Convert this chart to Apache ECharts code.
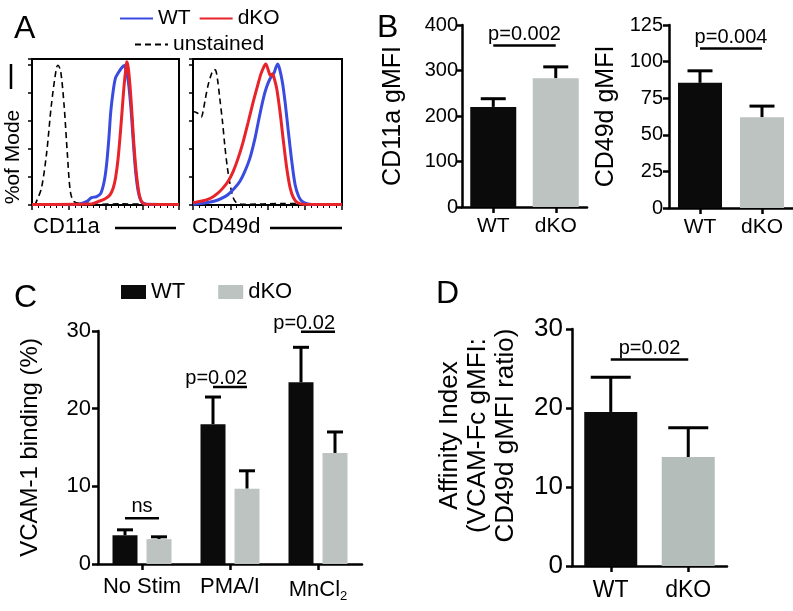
<!DOCTYPE html>
<html>
<head>
<meta charset="utf-8">
<script src="https://cdn.jsdelivr.net/npm/echarts@6/dist/echarts.min.js"></script>
<style>
  html, body { margin: 0; padding: 0; background: #fff; }
  #main { width: 793px; height: 611px; }
</style>
</head>
<body>
<div id="main"></div>
<script>
// panel A histograms: [channel position (0-100, log scale), % of mode]
var cd11aUnstained = [[2, 0], [3, 2.4], [6.4, 11.9], [9.8, 35.7], [13.2, 71.4], [16.6, 97.6], [17.7, 99.5], [19.5, 95.2], [21.8, 71.4], [24.1, 35.7], [26.1, 9.5], [28.6, 2.4], [33.6, 1.2], [38.2, 2.4], [42.7, 0.5], [60, 0.8], [80, 0.5], [100, 0.4]];
var cd11aWT = [[0, 0.3], [30, 0.3], [37, 2.4], [40.5, 5.2], [43.9, 6], [46.8, 8.3], [49.1, 16.7], [50.7, 28.6], [52.3, 47.6], [53.6, 66.7], [55.2, 81], [56.8, 90.5], [58.6, 94], [60.9, 97.6], [62.7, 99.3], [63.9, 96.4], [65.5, 88.1], [67.3, 69], [68.9, 45.2], [70.5, 23.8], [72.3, 9.5], [74.5, 2.4], [78, 0.5], [100, 0.3]];
var cd11aKO = [[0, 0.4], [40.5, 0.7], [45, 2.4], [49.5, 4.3], [53, 7.1], [55.2, 11.9], [56.8, 19], [58.6, 33.3], [60.2, 52.4], [61.6, 71.4], [62.7, 85.7], [63.9, 97.6], [64.5, 102], [65.5, 97.6], [66.8, 83.3], [68.2, 61.9], [69.5, 40.5], [71.1, 21.4], [73, 7.1], [75, 1.7], [78, 0.5], [100, 0.4]];
var cd49dUnstained = [[0, 66], [0.7, 66.4], [3.4, 65.2], [5.6, 62.8], [6.7, 66.4], [8.3, 75.8], [10.1, 85.2], [12.4, 93.4], [14.2, 96.5], [15.3, 95.8], [16.4, 89.9], [18, 75.8], [19.8, 59.3], [21.3, 42.8], [23.1, 26.4], [24.9, 14.6], [27, 5.2], [29.2, 1.6], [33.7, 0.5], [60, 1], [100, 0.5]];
var cd49dWT = [[0, 0.5], [7.9, 1.4], [14.6, 2.8], [19.1, 4.7], [23.6, 7.5], [28.1, 12.2], [31.5, 16.9], [34.8, 24], [38.2, 33.4], [41.6, 47.5], [44.3, 61.6], [47.2, 75.8], [49.4, 84], [51.7, 89.9], [53.3, 92.2], [54.6, 94.6], [55.7, 98.1], [56.9, 100.5], [58.4, 95.8], [60, 87.5], [61.8, 73.4], [64, 52.2], [66.3, 31.1], [68.5, 14.6], [70.8, 6.4], [73, 2.8], [76.4, 0.9], [79.8, 0.3], [100, 0.3]];
var cd49dKO = [[0, 1.6], [3.4, 2.4], [7.9, 3.3], [12.4, 5.2], [16.9, 8.7], [20.2, 12.2], [23.6, 16.9], [27, 24], [30.3, 33.4], [33.7, 45.2], [37.1, 59.3], [40.4, 73.4], [43.4, 85.2], [45.6, 93.4], [47.4, 98.1], [48.8, 100.5], [50.6, 95.8], [51.9, 92.2], [53.3, 93.4], [54.6, 89.9], [56.2, 82.8], [58.4, 66.4], [60.7, 45.2], [62.9, 26.4], [65.2, 12.2], [67.4, 5.2], [70.3, 1.6], [74.2, 0.5], [100, 0.4]];

// panel B
var groups = ['WT', 'dKO'];
var cd11aMean = [220, 283];
var cd11aSem = [18, 25];
var cd49dMean = [85.5, 62];
var cd49dSem = [8.2, 7.6];

// panel C
var cCats = ['No Stim', 'PMA/I', 'MnCl2'];
var cWT = [3.7, 18.0, 23.4];
var cWTSem = [0.7, 3.5, 4.5];
var cKO = [3.2, 9.7, 14.3];
var cKOSem = [0.3, 2.3, 2.7];
var cSigY = [5.9, 22.8, 29.9];
var cSigText = ['ns', 'p=0.02', 'p=0.02'];

// panel D
var dMean = [19.5, 13.8];
var dSem = [4.4, 3.7];

var FONT = 'Liberation Sans, Arial, Helvetica, sans-serif';
var BLACK = '#0b0b0b';
var GREY = '#bcc3c0';
var BLUE = '#3a4ce0';
var RED = '#e8232a';

var myChart = echarts.init(document.getElementById('main'));

function histX(grid) {
  return {
    type: 'value', gridIndex: grid, min: 0, max: 100, interval: 25,
    axisLine: { lineStyle: { color: '#000', width: 2 } },
    axisTick: { show: true, length: 5, lineStyle: { color: '#000', width: 1.5 } },
    minorTick: { show: true, splitNumber: 6, length: 3, lineStyle: { color: '#000', width: 1 } },
    axisLabel: { show: false },
    splitLine: { show: false }
  };
}
function histY(grid) {
  return {
    type: 'value', gridIndex: grid, min: 0, max: 104, interval: 20,
    axisLine: { show: true, lineStyle: { color: '#000', width: 2 } },
    axisTick: { show: true, length: 4, lineStyle: { color: '#000', width: 1.5 } },
    axisLabel: { show: false },
    splitLine: { show: false }
  };
}
function catX(grid, data, size, margin) {
  return {
    type: 'category', gridIndex: grid, data: data,
    axisLine: { lineStyle: { color: '#000', width: 2.5 } },
    axisTick: { show: true, alignWithLabel: true, length: 6, lineStyle: { color: '#000', width: 2.5 } },
    axisLabel: {
      interval: 0, color: '#000', fontFamily: FONT, fontSize: size, margin: margin,
      formatter: function (v) { return v === 'MnCl2' ? 'MnCl{s|2}' : v; },
      rich: { s: { fontSize: 13, fontFamily: FONT, color: '#000', padding: [14, 0, 0, 0] } }
    }
  };
}
function valY(grid, max, interval, name, nameGap, size, margin, nameSize, namePad) {
  return {
    type: 'value', gridIndex: grid, min: 0, max: max, interval: interval,
    name: name, nameLocation: 'middle', nameGap: nameGap,
    nameTextStyle: { color: '#000', fontFamily: FONT, fontSize: nameSize, lineHeight: 28, padding: namePad || 0 },
    axisLine: { show: true, lineStyle: { color: '#000', width: 2.5 } },
    axisTick: { show: true, length: 6, lineStyle: { color: '#000', width: 2.5 } },
    axisLabel: { color: '#000', fontFamily: FONT, fontSize: size, margin: margin },
    splitLine: { show: false }
  };
}

function histLine(name, data, axis, color, dashed) {
  return {
    name: name, type: 'line', xAxisIndex: axis, yAxisIndex: axis,
    data: data, symbol: 'none', smooth: 0.3, silent: true,
    lineStyle: dashed ? { color: '#000', width: 1.6, type: [6, 4] } : { color: color, width: 3 },
    itemStyle: { color: dashed ? '#000' : color }
  };
}

function colouredBars(values, grey) {
  return values.map(function (v, i) {
    return { value: v, itemStyle: { color: i === 0 ? BLACK : (grey || GREY) } };
  });
}

function sigLine(y, text) {
  return {
    symbol: ['none', 'none'], silent: true,
    lineStyle: { color: '#000', width: 2.5, type: 'solid' },
    label: { show: true, position: 'middle', distance: 1, formatter: text, color: '#000', fontFamily: FONT, fontSize: 20 },
    data: [[{ coord: [0, y] }, { coord: [1, y] }]]
  };
}

// error bar: [category, mean, sem, group]
function errorRender(barW, gap, capW, lw) {
  return function (params, api) {
    var cat = api.value(0), mean = api.value(1), sem = api.value(2), g = api.value(3);
    var base = api.coord([cat, mean]);
    var top = api.coord([cat, mean + sem]);
    var off = gap === null ? 0 : (g - 0.5) * (barW + gap);
    var x = base[0] + off;
    var st = { stroke: '#000', lineWidth: lw };
    return {
      type: 'group',
      children: [
        { type: 'line', shape: { x1: x, y1: base[1], x2: x, y2: top[1] }, style: st },
        { type: 'line', shape: { x1: x - capW / 2, y1: top[1], x2: x + capW / 2, y2: top[1] }, style: st }
      ]
    };
  };
}
function errData(means, sems, g) {
  return means.map(function (m, i) { return [i, m, sems[i], g === undefined ? i : g]; });
}

var textBase = { fill: '#000', fontFamily: FONT };
var lineLegendText = { color: '#000', fontFamily: FONT, fontSize: 21 };

var option = {
  animation: false,
  backgroundColor: '#fff',
  textStyle: { fontFamily: FONT },
  grid: [
    { left: 32, top: 59, width: 147, height: 146, show: true, borderColor: '#000', borderWidth: 2 },
    { left: 193, top: 59, width: 149, height: 146, show: true, borderColor: '#000', borderWidth: 2 },
    { left: 462, top: 25, width: 125, height: 182 },
    { left: 669, top: 25, width: 124, height: 183 },
    { left: 98, top: 331, width: 264, height: 233 },
    { left: 572, top: 329, width: 155, height: 237 }
  ],
  legend: [
    {
      data: ['WT (A)', 'dKO (A)'], left: 114, top: 3, itemWidth: 33, itemHeight: 14, itemGap: 8,
      itemStyle: { opacity: 0 },
      formatter: function (n) { return n.replace(' (A)', ''); },
      textStyle: lineLegendText
    },
    {
      data: ['unstained'], left: 129, top: 29, itemWidth: 33, itemHeight: 14,
      itemStyle: { opacity: 0 },
      textStyle: lineLegendText
    },
    {
      data: ['WT', 'dKO'], left: 116, top: 276, itemWidth: 25, itemHeight: 14, itemGap: 33, icon: 'rect',
      textStyle: { color: '#000', fontFamily: FONT, fontSize: 22 }
    }
  ],
  xAxis: [
    histX(0), histX(1),
    catX(2, groups, 21, 9),
    catX(3, groups, 21, 9),
    catX(4, cCats, 22, 12),
    catX(5, groups, 23, 13)
  ],
  yAxis: [
    histY(0), histY(1),
    valY(2, 400, 100, 'CD11a gMFI', 55, 20, 4, 25),
    valY(3, 125, 25, 'CD49d gMFI', 49, 20, 6, 25),
    valY(4, 30, 10, 'VCAM-1 binding (%)', 54, 22, 7, 24),
    valY(5, 30, 10, 'Affinity Index\n(VCAM-Fc gMFI:\nCD49d gMFI ratio)', 52, 26, 9, 26, [0, 0, 0, 24])
  ],
  series: [
    histLine('unstained', cd11aUnstained, 0, '#000', true),
    histLine('WT (A)', cd11aWT, 0, BLUE),
    histLine('dKO (A)', cd11aKO, 0, RED),
    histLine('unstained', cd49dUnstained, 1, '#000', true),
    histLine('WT (A)', cd49dWT, 1, BLUE),
    histLine('dKO (A)', cd49dKO, 1, RED),

    {
      name: 'CD11a', type: 'bar', xAxisIndex: 2, yAxisIndex: 2, barWidth: 46,
      data: colouredBars(cd11aMean), markLine: sigLine(356, 'p=0.002')
    },
    {
      type: 'custom', xAxisIndex: 2, yAxisIndex: 2, silent: true,
      renderItem: errorRender(46, null, 25, 3), data: errData(cd11aMean, cd11aSem)
    },
    {
      name: 'CD49d', type: 'bar', xAxisIndex: 3, yAxisIndex: 3, barWidth: 44,
      data: colouredBars(cd49dMean), markLine: sigLine(109, 'p=0.004')
    },
    {
      type: 'custom', xAxisIndex: 3, yAxisIndex: 3, silent: true,
      renderItem: errorRender(44, null, 25, 3), data: errData(cd49dMean, cd49dSem)
    },

    {
      name: 'WT', type: 'bar', xAxisIndex: 4, yAxisIndex: 4, barWidth: 25, barGap: '36%',
      itemStyle: { color: BLACK }, data: cWT
    },
    {
      name: 'dKO', type: 'bar', xAxisIndex: 4, yAxisIndex: 4, barWidth: 25, barGap: '36%',
      itemStyle: { color: GREY }, data: cKO
    },
    {
      type: 'custom', xAxisIndex: 4, yAxisIndex: 4, silent: true,
      renderItem: errorRender(25, 9, 16, 3), data: errData(cWT, cWTSem, 0).concat(errData(cKO, cKOSem, 1))
    },
    {
      // significance bars over each pair of bars
      type: 'custom', xAxisIndex: 4, yAxisIndex: 4, silent: true,
      data: cSigY.map(function (y, i) { return [i, y]; }),
      renderItem: function (params, api) {
        var p = api.coord([api.value(0), api.value(1)]);
        var x1 = p[0] - 17, x2 = p[0] + 17;
        var txt = cSigText[params.dataIndex];
        var right = txt !== 'ns';
        return {
          type: 'group',
          children: [
            { type: 'line', shape: { x1: x1, y1: p[1], x2: x2, y2: p[1] }, style: { stroke: '#000', lineWidth: 2.5 } },
            {
              type: 'text', x: right ? x2 : p[0], y: p[1] + (right ? 2 : -2),
              style: { text: txt, fill: '#000', fontFamily: FONT, fontSize: 20, align: right ? 'right' : 'center', verticalAlign: 'bottom' }
            }
          ]
        };
      }
    },

    {
      name: 'Affinity', type: 'bar', xAxisIndex: 5, yAxisIndex: 5, barWidth: 53,
      data: colouredBars(dMean, '#b4bdb9'), markLine: sigLine(26.2, 'p=0.02')
    },
    {
      type: 'custom', xAxisIndex: 5, yAxisIndex: 5, silent: true,
      renderItem: errorRender(53, null, 40, 3), data: errData(dMean, dSem)
    }
  ],
  graphic: [
    { type: 'text', left: 14, top: 13, style: Object.assign({ text: 'A', fontSize: 32 }, textBase) },
    { type: 'text', left: 377, top: 12, style: Object.assign({ text: 'B', fontSize: 32 }, textBase) },
    { type: 'text', left: 14, top: 282, style: Object.assign({ text: 'C', fontSize: 32 }, textBase) },
    { type: 'text', left: 436, top: 278, style: Object.assign({ text: 'D', fontSize: 32 }, textBase) },
    {
      type: 'text', x: 13, y: 157, rotation: Math.PI / 2,
      style: Object.assign({ text: '%of Mode', fontSize: 21, align: 'center', verticalAlign: 'middle' }, textBase)
    },
    { type: 'line', shape: { x1: 11, y1: 64, x2: 11, y2: 89 }, style: { stroke: '#000', lineWidth: 2.5 } },
    { type: 'text', x: 33, y: 227, style: Object.assign({ text: 'CD11a', fontSize: 22, verticalAlign: 'middle' }, textBase) },
    { type: 'line', shape: { x1: 115, y1: 228, x2: 176, y2: 228 }, style: { stroke: '#000', lineWidth: 2.5 } },
    { type: 'text', x: 192, y: 227, style: Object.assign({ text: 'CD49d', fontSize: 22, verticalAlign: 'middle' }, textBase) },
    { type: 'line', shape: { x1: 270, y1: 228, x2: 342, y2: 228 }, style: { stroke: '#000', lineWidth: 2.5 } }
  ]
};

myChart.setOption(option);
</script>
</body>
</html>
